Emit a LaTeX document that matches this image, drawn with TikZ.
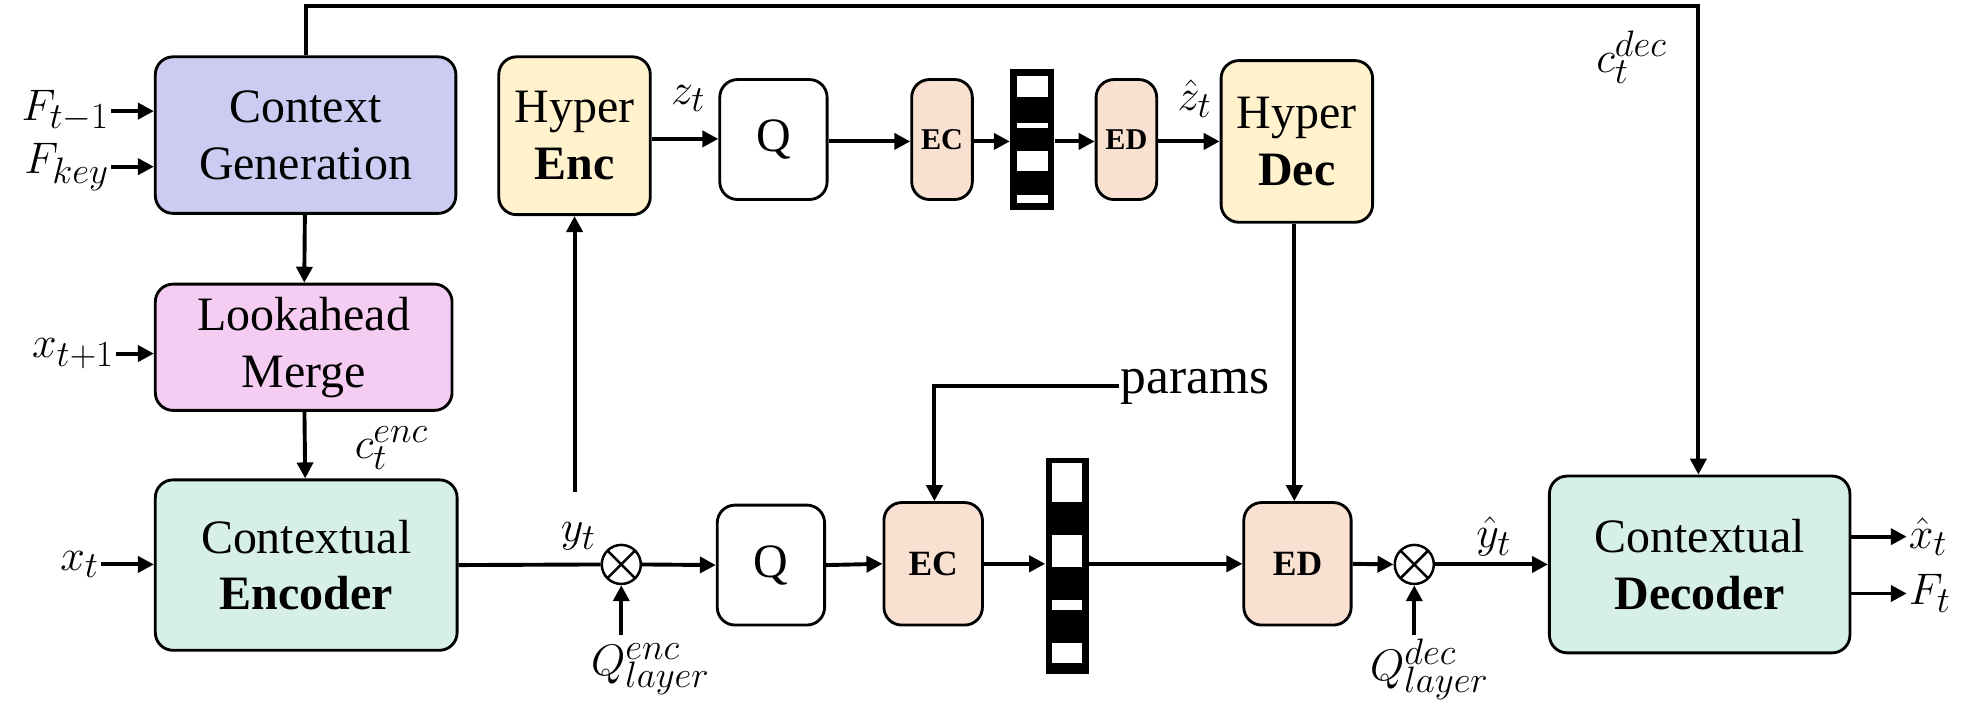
\documentclass[tikz,border=0pt]{standalone}
\usepackage{fontspec}
\setmainfont{Liberation Serif}
\usetikzlibrary{arrows.meta}
\begin{document}
\begin{tikzpicture}[x=0.025cm,y=-0.025cm,
  box/.style={draw,line width=1.6pt,rounded corners=10pt,align=center,inner sep=0pt,font=\fontsize{27}{32}\selectfont},
  ar/.style={line width=2.2pt,-{Triangle[length=9pt,width=9pt]}},
  ln/.style={line width=2.2pt},
  lab/.style={font=\fontsize{31}{34}\selectfont,inner sep=1pt},
  ot/.style={draw,circle,line width=1.4pt,minimum size=22pt,inner sep=0pt,path picture={\draw[line width=1.4pt] (path picture bounding box.north west)--(path picture bounding box.south east) (path picture bounding box.north east)--(path picture bounding box.south west);}}]
\useasboundingbox (0,0) rectangle (1568,570);
\definecolor{cg}{HTML}{CCCCF2}\definecolor{lm}{HTML}{F5CDF2}\definecolor{mint}{HTML}{D7F0E7}
\definecolor{cream}{HTML}{FFF2CC}\definecolor{peach}{HTML}{F9E1D2}
\def\bx#1#2#3#4#5#6#7{\node[box,fill=#6,minimum width={(#3-#2)*0.025cm},minimum height={(#5-#4)*0.025cm}] (#1) at ({(#2+#3)/2},{(#4+#5)/2}) {#7};}
\bx{cgen}{123}{361}{45}{169}{cg}{Context\\Generation}
\bx{look}{123}{358}{225}{325}{lm}{Lookahead\\Merge}
\bx{enc}{123}{362}{380}{515}{mint}{Contextual\\\textbf{Encoder}}
\bx{henc}{395}{515}{45}{170}{cream}{Hyper\\\textbf{Enc}}
\bx{q1}{570}{655}{63}{158}{white}{Q}
\bx{ec1}{722}{770}{63}{158}{peach}{\fontsize{17}{20}\selectfont\textbf{EC}}
\bx{ed1}{868}{916}{63}{158}{peach}{\fontsize{17}{20}\selectfont\textbf{ED}}
\bx{hdec}{967}{1087}{48}{176}{cream}{Hyper\\\textbf{Dec}}
\bx{q2}{568}{653}{400}{495}{white}{Q}
\bx{ec2}{700}{778}{398}{495}{peach}{\fontsize{20}{24}\selectfont\textbf{EC}}
\bx{ed2}{985}{1070}{398}{495}{peach}{\fontsize{20}{24}\selectfont\textbf{ED}}
\bx{dec}{1227}{1465}{377}{517}{mint}{Contextual\\\textbf{Decoder}}
% bars
\fill (800,55) rectangle (835,166);
\foreach \a/\b in {0.048/0.198,0.381/0.417,0.583/0.726,0.893/0.952}
  \fill[white] (805,{55+111*\a}) rectangle (830,{55+111*\b});
\node[inner sep=0pt,minimum width=35*0.025cm,minimum height=111*0.025cm] (bar1) at (817.5,110.5) {};
\fill (828,363) rectangle (862,534);
\foreach \a/\b in {0.023/0.203,0.353/0.504,0.654/0.702,0.857/0.947}
  \fill[white] (833,{363+171*\a}) rectangle (857,{363+171*\b});
\node[inner sep=0pt,minimum width=34*0.025cm,minimum height=171*0.025cm] (bar2) at (845,448.5) {};
% otimes
\node[ot] (o1) at (492,447) {};
\node[ot] (o2) at (1120,447) {};
% labels
\node[lab,anchor=east] (f1) at (88,88) {$F_{t-1}$};
\node[lab,anchor=east] (fk) at (88,132) {$F_{key}$};
\node[lab,anchor=east] (x1) at (92,280) {$x_{t+1}$};
\node[lab,anchor=east] (xt) at (80,447) {$x_t$};
\node[lab] (cenc) at (310,355) {$c_t^{enc}$};
\node[lab] (cdec) at (1292,45) {$c_t^{dec}$};
\node[lab] (yt) at (458,425) {$y_t$};
\node[lab] (zt) at (545,78) {$z_t$};
\node[lab] (zh) at (946,78) {$\hat z_t$};
\node[lab] (yh) at (1183,425) {$\hat y_t$};
\node[lab] (qe) at (515,530) {$Q_{layer}^{enc}$};
\node[lab] (qd) at (1132,530) {$Q_{layer}^{dec}$};
\node[lab,anchor=west] (xh) at (1510,425) {$\hat x_t$};
\node[lab,anchor=west] (ft) at (1510,470) {$F_t$};
\node[anchor=west,inner sep=1pt,font=\fontsize{29}{32}\selectfont] (par) at (886,306) {params};
\coordinate (qeb) at (492,503); \coordinate (qdb) at (1120,503);
% connectors
\draw[ar] (f1.east) -- (f1.east -| cgen.west);
\draw[ar] (fk.east) -- (fk.east -| cgen.west);
\draw[ar] (x1.east) -- (x1.east -| look.west);
\draw[ar] (xt.east) -- (xt.east -| enc.west);
\draw[ar] (cgen) -- (look);
\draw[ar] (look) -- (enc);
\draw[ar] (cgen.north) |- (1345,5) -- (dec.north -| 1345,0);
\draw[ln] (enc.east) -- (o1.west);
\draw[ar] (455,390) -- (henc.south -| 455,0);
\draw[ar] (henc.east |- 0,110) -- (q1.west |- 0,110);
\draw[ar] (q1.east |- 0,112) -- (ec1.west |- 0,112);
\draw[ar] (ec1.east |- 0,112) -- (bar1.west |- 0,112);
\draw[ar] (bar1.east |- 0,112) -- (ed1.west |- 0,112);
\draw[ar] (ed1.east |- 0,112) -- (hdec.west |- 0,112);
\draw[ar] (hdec.south -| 1025,0) -- (ed2.north -| 1025,0);
\draw[ar] (qeb) -- (o1.south);
\draw[ar] (qdb) -- (o2.south);
\draw[ar] (o1.east) -- (q2.west);
\draw[ar] (q2.east) -- (ec2.west);
\draw[ar] (ec2.east) -- (bar2.west |- ec2.east);
\draw[ar] (bar2.east |- ed2.west) -- (ed2.west);
\draw[ar] (ed2.east) -- (o2.west);
\draw[ar] (o2.east) -- (dec.west);
\draw[ar] (par.west) -| (ec2.north -| 740,0);
\draw[ar] (dec.east |- xh) -- (xh.west);
\draw[ar] (dec.east |- ft) -- (ft.west);
\end{tikzpicture}
\end{document}
